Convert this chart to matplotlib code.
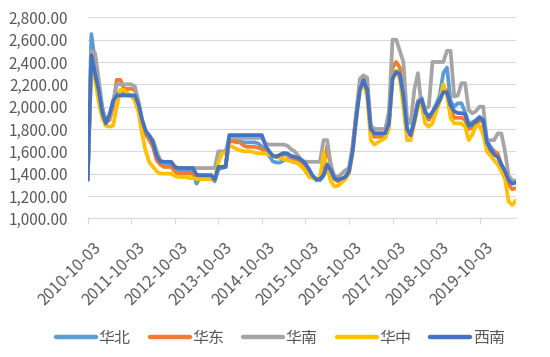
import matplotlib
matplotlib.use("Agg")
import matplotlib.pyplot as plt
import matplotlib.transforms as mtransforms
import numpy as np

plt.rcParams['font.family'] = ['Noto Sans CJK SC', 'DejaVu Sans']

# monthly readings, 2010-10 .. 2020-08
tick_labels = ['2010-10-03', '2011-10-03', '2012-10-03', '2013-10-03', '2014-10-03',
               '2015-10-03', '2016-10-03', '2017-10-03', '2018-10-03', '2019-10-03']

huabei = [1350, 2650, 2400, 2200, 1980, 1870, 1900, 2050, 2120, 2120, 2120, 2100,
          2100, 2080, 2000, 1860, 1760, 1720, 1650, 1540, 1500, 1490, 1490, 1490,
          1450, 1430, 1430, 1430, 1430, 1400, 1310, 1370, 1370, 1370, 1370, 1330,
          1440, 1450, 1460, 1700, 1700, 1690, 1690, 1680, 1680, 1680, 1680, 1670,
          1640, 1600, 1560, 1510, 1500, 1500, 1520, 1530, 1520, 1520, 1500, 1500,
          1480, 1420, 1370, 1350, 1340, 1380, 1460, 1420, 1350, 1340, 1350, 1370,
          1420, 1620, 1920, 2180, 2260, 2200, 1800, 1750, 1750, 1750, 1750, 1850,
          2280, 2320, 2300, 2100, 1800, 1750, 1880, 2050, 2080, 1960, 1900, 1950,
          2020, 2100, 2300, 2350, 2050, 2000, 2030, 2030, 1950, 1850, 1860, 1880,
          1910, 1880, 1700, 1640, 1600, 1560, 1480, 1430, 1360, 1330, 1340]

huadong = [1350, 2420, 2350, 2150, 1950, 1860, 1880, 2000, 2240, 2240, 2160, 2160,
           2160, 2150, 2000, 1850, 1750, 1700, 1640, 1520, 1480, 1460, 1460, 1460,
           1420, 1400, 1400, 1400, 1400, 1400, 1370, 1370, 1370, 1370, 1360, 1340,
           1450, 1460, 1470, 1690, 1690, 1680, 1680, 1650, 1640, 1640, 1640, 1630,
           1620, 1600, 1580, 1560, 1560, 1560, 1570, 1570, 1550, 1540, 1520, 1500,
           1470, 1420, 1370, 1340, 1350, 1420, 1650, 1480, 1350, 1330, 1350, 1370,
           1420, 1620, 1920, 2200, 2260, 2180, 1780, 1730, 1730, 1730, 1740, 1880,
           2350, 2400, 2350, 2100, 1780, 1740, 1870, 2040, 2060, 1920, 1880, 1930,
           1980, 2050, 2150, 2150, 1980, 1900, 1900, 1900, 1880, 1800, 1810, 1840,
           1880, 1860, 1640, 1600, 1600, 1580, 1480, 1400, 1300, 1260, 1270]

huanan = [1350, 2500, 2480, 2250, 2000, 1880, 1900, 2050, 2200, 2200, 2200, 2200,
          2200, 2180, 2050, 1880, 1780, 1740, 1700, 1600, 1520, 1500, 1500, 1500,
          1460, 1450, 1450, 1450, 1450, 1450, 1450, 1450, 1450, 1450, 1450, 1450,
          1600, 1600, 1600, 1720, 1720, 1720, 1720, 1720, 1720, 1720, 1720, 1720,
          1720, 1670, 1660, 1660, 1660, 1660, 1660, 1650, 1620, 1600, 1560, 1520,
          1506, 1506, 1506, 1506, 1506, 1700, 1700, 1470, 1380, 1370, 1400, 1430,
          1450, 1650, 1950, 2250, 2280, 2260, 1830, 1800, 1800, 1800, 1800, 1950,
          2600, 2600, 2500, 2400, 1900, 1850, 2150, 2300, 2000, 1980, 2000, 2400,
          2400, 2400, 2400, 2500, 2500, 2090, 2100, 2210, 2210, 1970, 1940, 1960,
          2000, 2000, 1700, 1700, 1700, 1760, 1760, 1600, 1380, 1340, 1330]

huazhong = [1350, 2400, 2250, 2050, 1900, 1830, 1820, 1830, 2000, 2150, 2150, 2120,
            2100, 2050, 1950, 1750, 1600, 1500, 1460, 1420, 1400, 1400, 1400, 1400,
            1380, 1370, 1370, 1370, 1360, 1360, 1350, 1350, 1350, 1350, 1350, 1340,
            1500, 1580, 1580, 1650, 1640, 1620, 1610, 1600, 1600, 1600, 1590, 1580,
            1580, 1580, 1570, 1560, 1550, 1540, 1530, 1520, 1510, 1500, 1490, 1460,
            1420, 1370, 1360, 1355, 1360, 1580, 1450, 1330, 1285, 1290, 1320, 1350,
            1400, 1580, 1880, 2150, 2200, 2100, 1700, 1660, 1680, 1700, 1720, 1800,
            2250, 2320, 2250, 2000, 1700, 1700, 1850, 2000, 2020, 1850, 1820, 1850,
            1950, 2050, 2200, 2100, 1900, 1850, 1850, 1850, 1820, 1700, 1750, 1830,
            1830, 1750, 1600, 1560, 1520, 1480, 1420, 1350, 1150, 1120, 1160]

xinan = [1343, 2460, 2300, 2150, 1950, 1850, 1930, 2050, 2100, 2100, 2100, 2100,
         2100, 2100, 2020, 1880, 1780, 1740, 1680, 1560, 1510, 1506, 1506, 1506,
         1460, 1450, 1450, 1450, 1450, 1450, 1390, 1387, 1387, 1387, 1387, 1345,
         1460, 1460, 1460, 1745, 1745, 1745, 1745, 1745, 1745, 1745, 1745, 1745,
         1745, 1650, 1600, 1560, 1550, 1570, 1585, 1580, 1560, 1550, 1540, 1520,
         1490, 1440, 1380, 1350, 1350, 1390, 1480, 1430, 1360, 1345, 1355, 1370,
         1420, 1600, 1900, 2150, 2237, 2150, 1800, 1762, 1762, 1762, 1762, 1850,
         2250, 2310, 2290, 2100, 1800, 1745, 1870, 2030, 2065, 1950, 1909, 1950,
         2000, 2058, 2130, 2130, 2010, 1960, 1942, 1942, 1930, 1830, 1840, 1870,
         1900, 1880, 1680, 1620, 1570, 1550, 1480, 1420, 1340, 1310, 1320]

series = [('华北', huabei, '#5B9BD5'),
          ('华东', huadong, '#ED7D31'),
          ('华南', huanan, '#A5A5A5'),
          ('华中', huazhong, '#FFC000'),
          ('西南', xinan, '#4472C4')]

fig = plt.figure(figsize=(5.5, 3.57), dpi=100)
ax = fig.add_axes([0.1595, 0.3885, 0.7785, 0.563])

months = np.arange(len(xinan))
for name, vals, color in series:
    ax.plot(months, vals, color=color, lw=2.7, label=name,
            solid_joinstyle='round', solid_capstyle='round')

ax.set_ylim(1000, 2800)
ax.set_yticks(np.arange(1000, 2801, 200))
ax.set_yticklabels([f'{v:,.2f}' for v in range(1000, 2801, 200)])
ax.set_xlim(0, len(xinan) - 1)
ax.set_xticks(np.arange(0, 120, 12))
ax.set_xticklabels(tick_labels, rotation=45, ha='right', rotation_mode='anchor')

ax.grid(axis='y', color='#D9D9D9', lw=0.8)
ax.set_axisbelow(True)
for s in ['top', 'right', 'left']:
    ax.spines[s].set_visible(False)
ax.spines['bottom'].set_color('#D9D9D9')
ax.tick_params(axis='y', length=0, pad=14, labelsize=11, labelcolor='#595959')
ax.tick_params(axis='x', length=4, color='#D9D9D9', pad=11, labelsize=11.5, labelcolor='#595959')
shift = mtransforms.ScaledTranslation(0.05, 0, fig.dpi_scale_trans)
for lbl in ax.get_xticklabels():
    lbl.set_transform(lbl.get_transform() + shift)

leg = fig.legend(loc='center', bbox_to_anchor=(0.51, 0.053), ncol=5, frameon=False,
                 fontsize=11.5, handlelength=2.5, handletextpad=0.15, columnspacing=1.2)
for t in leg.get_texts():
    t.set_color('#595959')
for h in leg.get_lines():
    h.set_linewidth(3.2)

fig.savefig('out.png', dpi=100)
